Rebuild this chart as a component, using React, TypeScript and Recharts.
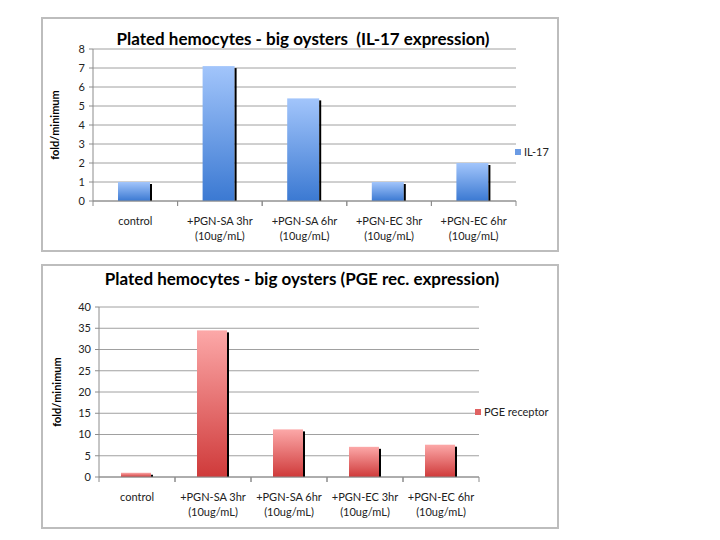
import React from 'react'
import { BarChart, Bar, XAxis, YAxis, CartesianGrid, Legend } from 'recharts'

const categories = [
  'control',
  '+PGN-SA 3hr\n(10ug/mL)',
  '+PGN-SA 6hr\n(10ug/mL)',
  '+PGN-EC 3hr\n(10ug/mL)',
  '+PGN-EC 6hr\n(10ug/mL)',
]
const il17Values = [1.0, 7.1, 5.4, 1.0, 2.0]
const pgeValues = [1.0, 34.5, 11.2, 7.1, 7.6]
const il17Ticks = [0, 1, 2, 3, 4, 5, 6, 7, 8]
const pgeTicks = [0, 5, 10, 15, 20, 25, 30, 35, 40]

const FONT = 'Lato, "Open Sans", sans-serif'
const AXIS = '#8c8c8c'
const GRID = '#a0a0a0'

const il17Data = categories.map((name, i) => ({ name, value: il17Values[i] }))
const pgeData = categories.map((name, i) => ({ name, value: pgeValues[i] }))

const makeBarShape = (gradId: string) => (props: any) => {
  const { x, y, width, height } = props
  if (!height || height <= 0) return <g />
  return (
    <g>
      <rect x={x} y={y} width={width - 2} height={height} fill={`url(#${gradId})`} />
      <rect x={x + width - 2} y={y + 2} width={2} height={height - 2} fill="#000" />
    </g>
  )
}

function CategoryTick(props: any) {
  const { x, y, payload, half } = props
  const h = payload && payload.offset ? payload.offset : half
  const lines = String(payload.value).split('\n')
  return (
    <g>
      <line x1={x - h} x2={x - h} y1={y - 5} y2={y} stroke={AXIS} />
      <line x1={x + h} x2={x + h} y1={y - 5} y2={y} stroke={AXIS} />
      <text x={x} y={y} textAnchor="middle" fontSize={11} fill="#222" fontFamily={FONT}>
        {lines.map((l, i) => (
          <tspan key={i} x={x} dy={i === 0 ? 19 : 15}>
            {l}
          </tspan>
        ))}
      </text>
    </g>
  )
}

function LegendBox({ color, label }: { color: string; label: string }) {
  return (
    <div style={{ display: 'flex', alignItems: 'center', fontFamily: FONT, fontSize: 11, color: '#222', whiteSpace: 'nowrap' }}>
      <span style={{ display: 'inline-block', width: 6, height: 6, background: color, marginRight: 3 }} />
      {label}
    </div>
  )
}

interface PanelProps {
  top: number
  height: number
  title: string
  data: { name: string; value: number }[]
  ticks: number[]
  max: number
  plot: { top: number; right: number; bottom: number; left: number }
  gradId: string
  colorTop: string
  colorBottom: string
  legendColor: string
  legendLabel: string
  legendPos: { left: number; top: number }
  barSize: number
  titleTop: number
  titleShift: number
  labelOffset: number
}

function Panel(p: PanelProps) {
  const width = 514
  const plotW = width - p.plot.left - p.plot.right
  return (
    <div
      style={{
        position: 'absolute',
        left: 41,
        top: p.top,
        width: width + 4,
        height: p.height + 4,
        border: '2px solid #bdbdbd',
        boxSizing: 'border-box',
        background: '#fff',
      }}
    >
      <div
        style={{
          position: 'absolute',
          left: p.titleShift,
          width: width,
          top: p.titleTop,
          textAlign: 'center',
          fontFamily: FONT,
          fontWeight: 700,
          fontSize: 17,
          color: '#000',
          whiteSpace: 'pre',
        }}
      >
        {p.title}
      </div>
      <BarChart
        width={width}
        height={p.height}
        data={p.data}
        margin={{ top: p.plot.top, right: p.plot.right, bottom: 0, left: 0 }}
      >
        <defs>
          <linearGradient id={p.gradId} x1="0" y1="0" x2="0" y2="1">
            <stop offset="0%" stopColor={p.colorTop} />
            <stop offset="100%" stopColor={p.colorBottom} />
          </linearGradient>
        </defs>
        <CartesianGrid vertical={false} stroke={GRID} />
        <XAxis
          dataKey="name"
          stroke={AXIS}
          tickLine={false}
          tickSize={5}
          tickMargin={0}
          interval={0}
          height={p.plot.bottom}
          tick={<CategoryTick half={plotW / 10} />}
        />
        <YAxis
          domain={[0, p.max]}
          ticks={p.ticks}
          interval={0}
          stroke={AXIS}
          tickSize={4}
          tickMargin={4}
          width={p.plot.left}
          tick={{ fontSize: 11, fill: '#222', fontFamily: FONT }}
          label={{
            value: 'fold/minimum',
            angle: -90,
            position: 'insideLeft',
            offset: p.labelOffset,
            style: { fontSize: 11, fontWeight: 700, fill: '#000', fontFamily: FONT, textAnchor: 'middle' },
          }}
        />
        <Legend
          layout="vertical"
          align="center"
          verticalAlign="middle"
          wrapperStyle={{ left: p.legendPos.left, top: p.legendPos.top, width: 'auto', height: 'auto' }}
          content={() => <LegendBox color={p.legendColor} label={p.legendLabel} />}
        />
        <Bar
          dataKey="value"
          name={p.legendLabel}
          barSize={p.barSize}
          isAnimationActive={false}
          shape={makeBarShape(p.gradId)}
        />
      </BarChart>
    </div>
  )
}

export default function App() {
  return (
    <div style={{ position: 'absolute', left: 0, top: 0, width: 720, height: 540, background: '#fff' }}>
      <Panel
        top={17}
        height={231}
        title="Plated hemocytes - big oysters  (IL-17 expression)"
        data={il17Data}
        ticks={il17Ticks}
        max={8}
        plot={{ top: 30, right: 41, bottom: 49, left: 50 }}
        gradId="gradBlue"
        colorTop="#a2c5fb"
        colorBottom="#3b79d2"
        legendColor="#6b9be4"
        legendLabel="IL-17"
        legendPos={{ left: 472, top: 126 }}
        barSize={34}
        titleTop={9}
        titleShift={3}
        labelOffset={12}
      />
      <Panel
        top={264}
        height={261}
        title="Plated hemocytes - big oysters (PGE rec. expression)"
        data={pgeData}
        ticks={pgeTicks}
        max={40}
        plot={{ top: 41, right: 78, bottom: 50, left: 56 }}
        gradId="gradRed"
        colorTop="#fca8a8"
        colorBottom="#cf3a3a"
        legendColor="#e06262"
        legendLabel="PGE receptor"
        legendPos={{ left: 432, top: 139 }}
        barSize={32}
        titleTop={2}
        titleShift={2}
        labelOffset={14}
      />
    </div>
  )
}
